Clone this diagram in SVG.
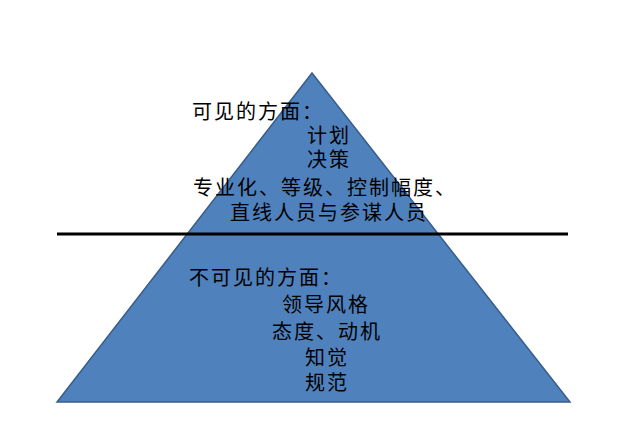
<svg xmlns="http://www.w3.org/2000/svg" width="627" height="432" viewBox="0 0 627 432">
<style>
.t{font-family:"Noto Sans CJK SC","Noto Sans CJK JP",sans-serif;font-size:20px;letter-spacing:2px;fill:#000}
.c{text-anchor:middle}
</style>
<rect width="627" height="432" fill="#fff"/>
<g id="pyramid">
<polygon points="312,73 57,402 570,402" fill="#4f81bd" stroke="#385d8a" stroke-width="1.5"/>
</g>
<g id="connectors">
<line x1="57" y1="234" x2="568" y2="234" stroke="#000" stroke-width="3"/>
</g>
<g id="visible">
<text class="t" x="192" y="119">可见的方面：</text>
<text class="t c" x="329" y="143">计划</text>
<text class="t c" x="329" y="167">决策</text>
<text class="t" x="193" y="195">专业化、等级、控制幅度、</text>
<text class="t c" x="329" y="220">直线人员与参谋人员</text>
</g>
<g id="invisible">
<text class="t" x="189" y="285">不可见的方面：</text>
<text class="t c" x="326" y="312">领导风格</text>
<text class="t c" x="327" y="339">态度、动机</text>
<text class="t c" x="327" y="365">知觉</text>
<text class="t c" x="327" y="390">规范</text>
</g>
</svg>
